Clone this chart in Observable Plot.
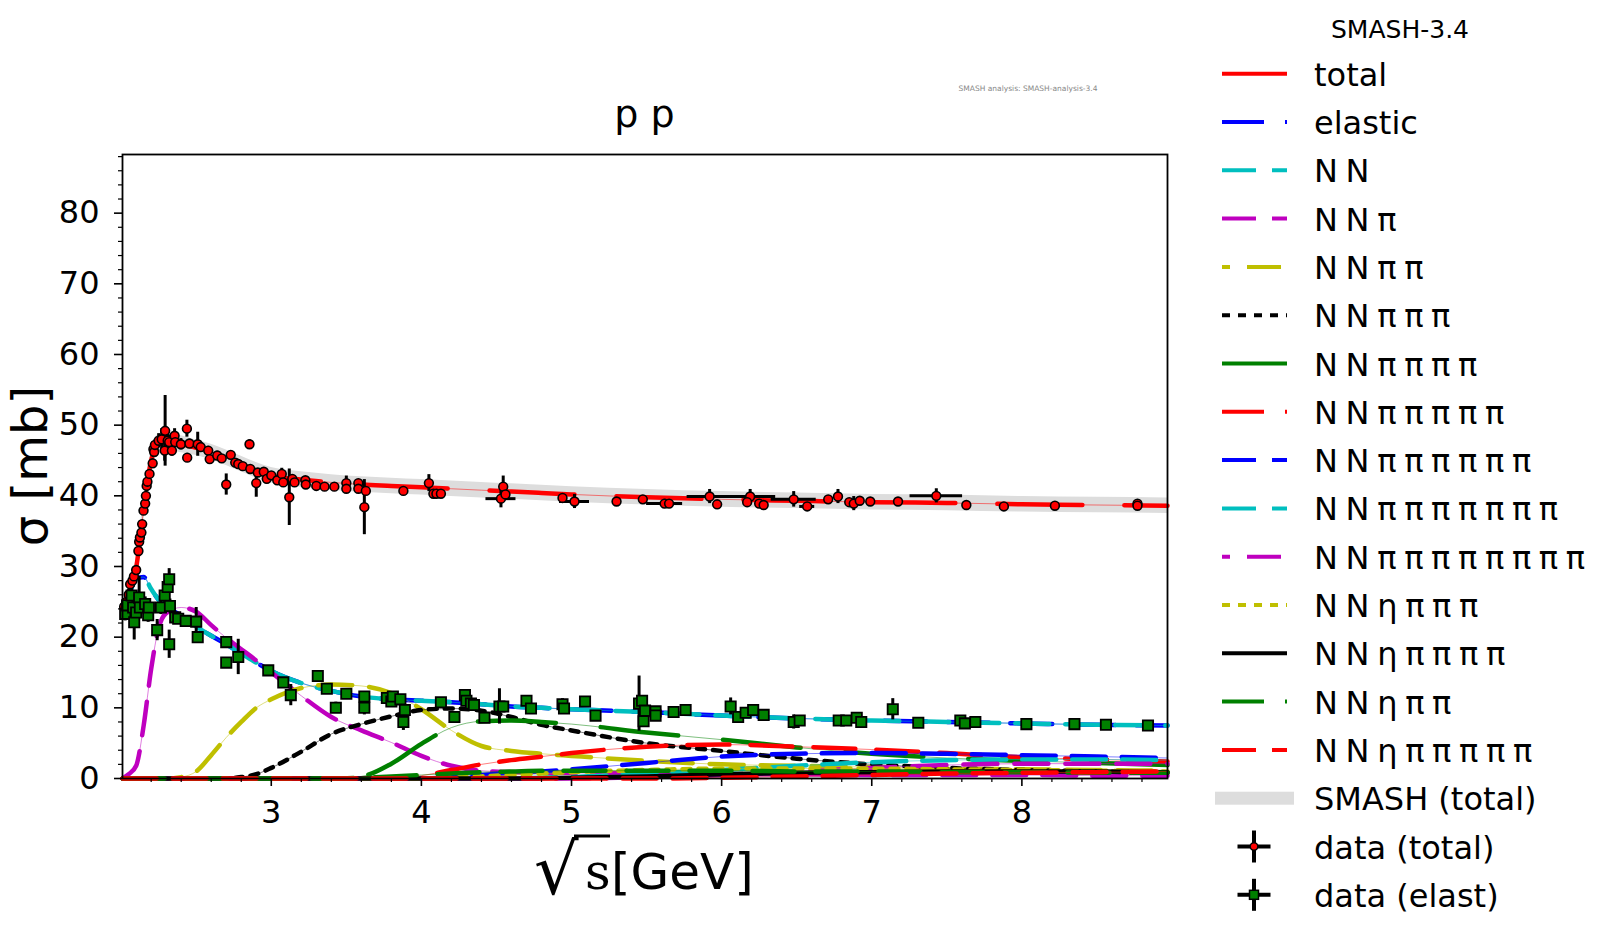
<!DOCTYPE html>
<html><head><meta charset="utf-8">
<script src="https://cdn.jsdelivr.net/npm/d3@7"></script>
<script src="https://cdn.jsdelivr.net/npm/@observablehq/plot@0.6"></script>
<style>
body{margin:0;background:#fff;}
#chart{position:relative;width:1600px;height:933px;}
</style>
</head><body><div id="chart"></div>
<script>
// ---------- model curves (SMASH), common energy grid ----------
const sqrtS = [2.01, 2.05, 2.1, 2.15, 2.2, 2.25, 2.3, 2.4, 2.5, 2.6, 2.7, 2.8, 2.9, 3.0, 3.2, 3.4, 3.6, 3.8, 4.0, 4.2, 4.4, 4.6, 4.8, 5.0, 5.5, 6.0, 6.5, 7.0, 7.5, 8.0, 8.5, 8.97];
const sigTotal   = [24.0, 26.0, 29.8, 38.0, 45.0, 47.4, 47.6, 47.3, 46.8, 46.2, 45.4, 44.5, 43.6, 42.9, 42.3, 41.9, 41.6, 41.4, 41.2, 41.0, 40.8, 40.6, 40.4, 40.2, 39.8, 39.5, 39.3, 39.1, 39.0, 38.8, 38.7, 38.6];
const bandHalf   = [1.0, 1.1, 1.3, 1.5, 1.5, 1.3, 1.2, 1.2, 1.1, 1.1, 1.1, 1.1, 1.1, 1.1, 1.1, 1.1, 1.1, 1.1, 1.1, 1.1, 1.1, 1.1, 1.1, 1.1, 1.1, 1.1, 1.1, 1.1, 1.1, 1.1, 1.1, 1.1];
const sigElastic = [24.0, 26.0, 28.2, 28.5, 26.8, 25.3, 24.4, 23.0, 21.5, 20.2, 19.0, 17.7, 16.4, 15.2, 13.5, 12.4, 11.6, 11.2, 11.0, 10.8, 10.5, 10.2, 10.0, 9.8, 9.4, 8.9, 8.5, 8.2, 8.0, 7.8, 7.6, 7.5];
const sigNN      = [24.0, 26.0, 28.2, 28.5, 26.8, 25.3, 24.4, 23.0, 21.5, 20.2, 19.0, 17.7, 16.4, 15.2, 13.5, 12.4, 11.6, 11.2, 11.0, 10.8, 10.5, 10.2, 10.0, 9.8, 9.4, 8.9, 8.5, 8.2, 8.0, 7.8, 7.6, 7.5];
const sigNNpi    = [0, 0.6, 1.8, 7.5, 15.5, 21.3, 23.4, 24.2, 23.6, 21.7, 19.9, 18.3, 16.7, 15.0, 11.7, 8.7, 6.8, 5.1, 3.2, 1.8, 1.1, 0.9, 0.8, 0.8, 0.7, 0.6, 0.6, 0.5, 0.5, 0.5, 0.4, 0.4];
const sigNN2pi   = [0, 0, 0, 0, 0, 0, 0, 0.2, 1.0, 3.3, 5.8, 8.0, 10.0, 11.2, 12.8, 13.3, 13.1, 12.1, 9.8, 6.8, 4.6, 3.9, 3.5, 3.2, 2.5, 2.0, 1.8, 1.6, 1.4, 1.3, 1.2, 1.1];
const sigNN3pi   = [0, 0, 0, 0, 0, 0, 0, 0, 0, 0, 0, 0.2, 0.6, 1.5, 3.8, 6.3, 7.7, 8.8, 9.7, 9.9, 9.6, 8.7, 7.6, 6.8, 5.0, 3.9, 2.8, 2.0, 1.5, 1.2, 1.0, 0.8];
const sigNN4pi   = [0, 0, 0, 0, 0, 0, 0, 0, 0, 0, 0, 0, 0, 0, 0, 0, 0.3, 2.1, 4.9, 7.2, 8.1, 8.2, 8.0, 7.7, 6.5, 5.5, 4.4, 3.5, 2.9, 2.5, 2.2, 1.9];
const sigNN5pi   = [0, 0, 0, 0, 0, 0, 0, 0, 0, 0, 0, 0, 0, 0, 0, 0, 0, 0, 0.4, 1.2, 2.0, 2.6, 3.1, 3.6, 4.5, 4.8, 4.5, 4.1, 3.6, 3.0, 2.7, 2.4];
const sigNN6pi   = [0, 0, 0, 0, 0, 0, 0, 0, 0, 0, 0, 0, 0, 0, 0, 0, 0, 0, 0, 0.2, 0.5, 0.8, 1.0, 1.3, 2.2, 3.1, 3.5, 3.6, 3.5, 3.3, 3.1, 2.9];
const sigNN7pi   = [0, 0, 0, 0, 0, 0, 0, 0, 0, 0, 0, 0, 0, 0, 0, 0, 0, 0, 0, 0, 0, 0, 0.1, 0.2, 0.7, 1.2, 1.8, 2.3, 2.6, 2.7, 2.7, 2.6];
const sigNN8pi   = [0, 0, 0, 0, 0, 0, 0, 0, 0, 0, 0, 0, 0, 0, 0, 0, 0, 0, 0, 0, 0, 0, 0, 0, 0.2, 0.5, 1.0, 1.5, 1.9, 2.1, 2.1, 2.1];
const sigNNeta3pi= [0, 0, 0, 0, 0, 0, 0, 0, 0, 0, 0, 0, 0, 0, 0, 0, 0, 0, 0, 0.1, 0.3, 0.5, 0.7, 0.9, 1.2, 1.4, 1.4, 1.4, 1.3, 1.2, 1.1, 1.0];
const sigNNeta4pi= [0, 0, 0, 0, 0, 0, 0, 0, 0, 0, 0, 0, 0, 0, 0, 0, 0, 0, 0, 0, 0, 0, 0.05, 0.1, 0.3, 0.6, 0.8, 0.9, 1.0, 1.0, 1.0, 0.9];
const sigNNeta2pi= [0, 0, 0, 0, 0, 0, 0, 0, 0, 0, 0, 0, 0, 0, 0, 0, 0.1, 0.3, 0.5, 0.7, 0.9, 1.0, 1.1, 1.1, 1.1, 1.1, 1.0, 1.0, 0.9, 0.9, 0.8, 0.8];
const sigNNeta5pi= [0, 0, 0, 0, 0, 0, 0, 0, 0, 0, 0, 0, 0, 0, 0, 0, 0, 0, 0, 0, 0, 0, 0, 0, 0, 0.1, 0.3, 0.5, 0.7, 0.8, 0.9, 1.0];

// ---------- experimental data ----------
const totX    = [2.02,2.035,2.05,2.06,2.075,2.085,2.10,2.115,2.12,2.125,2.135,2.14,2.149,2.16,2.165,2.17,2.175,2.189,2.21,2.215,2.22,2.225,2.25,2.27,2.293,2.29,2.31,2.32,2.338,2.356,2.36,2.398,2.438,2.44,2.455,2.51,2.53,2.58,2.59,2.64,2.67,2.70,2.73,2.76,2.78,2.81,2.855,2.86,2.90,2.91,2.95,2.97,3.00,3.04,3.07,3.08,3.12,3.14,3.155,3.227,3.23,3.30,3.355,3.42,3.50,3.50,3.58,3.58,3.62,3.63,3.88,4.05,4.08,4.10,4.13,4.53,4.545,4.56,4.94,5.02,5.30,5.475,5.62,5.65,5.92,5.97,6.19,6.17,6.25,6.28,6.48,6.57,6.71,6.775,6.85,6.88,6.92,6.99,7.175,7.43,7.63,7.88,8.22,8.77,8.77];
const totY    = [24.3,25.0,26.0,27.5,28.0,28.6,29.5,32.2,33.5,34.1,34.8,36.0,37.9,38.9,40.0,41.4,42.0,43.1,44.6,46.6,46.2,47.2,47.8,48.0,49.2,46.4,47.8,47.6,46.4,48.5,47.6,47.3,49.5,45.4,47.4,47.3,46.9,46.4,45.2,45.7,45.3,41.6,45.8,44.7,44.5,44.2,47.3,43.8,41.8,43.3,43.4,42.4,42.9,42.2,43.1,41.9,39.8,42.4,41.9,42.2,41.6,41.4,41.3,41.3,41.8,41.0,41.8,41.0,38.4,40.7,40.7,41.8,40.3,40.3,40.3,39.6,41.3,40.2,39.7,39.2,39.2,39.5,38.9,38.9,39.9,38.8,39.9,39.1,38.9,38.7,39.5,38.5,39.5,39.9,39.1,38.9,39.3,39.2,39.2,40.0,38.7,38.5,38.6,38.9,38.6];
const totErr  = [1.0,1.0,0.8,0.8,0.5,0.5,0.5,0.5,0.5,0.5,0.5,0.5,0.5,0.5,0.5,0.5,0.5,0.5,0.5,0.7,0.7,0.7,1.0,1.5,5.0,1.5,1.0,1.0,0.8,1.0,0.8,0.8,1.2,0.6,0.6,1.7,0.6,0.6,0.6,0.6,0.5,1.5,0.5,0.5,0.5,0.5,0.6,0.5,2.0,0.5,0.5,0.7,0.5,0.5,0.8,0.5,4.0,0.5,0.5,0.5,0.5,0.4,0.4,0.4,1.0,0.4,0.4,0.4,3.9,0.4,0.4,1.2,0.4,0.4,0.4,1.3,1.5,0.5,0.5,1.0,0.4,0.4,0.6,0.4,1.0,0.4,1.0,0.4,0.4,0.4,1.1,0.4,0.4,1.0,0.4,1.0,0.4,0.4,0.4,1.0,0.4,0.4,0.4,0.4,0.4];
const totXErr = [0,0,0,0,0,0,0,0,0,0,0,0,0,0,0,0,0,0,0,0,0,0,0,0,0,0,0,0,0,0,0,0,0,0,0,0,0,0,0,0,0,0,0,0,0,0,0,0,0,0,0,0,0,0,0,0,0,0,0,0,0,0,0,0,0,0,0,0,0,0,0,0,0,0,0,0.1,0,0,0,0.1,0,0,0.12,0,0.15,0,0.17,0,0,0,0.15,0.05,0,0,0,0,0,0,0,0.175,0,0,0,0,0];

const elX   = [2.027,2.04,2.07,2.08,2.087,2.10,2.12,2.125,2.16,2.18,2.185,2.24,2.265,2.29,2.31,2.32,2.325,2.32,2.36,2.38,2.43,2.50,2.51,2.70,2.70,2.78,2.98,3.08,3.13,3.31,3.37,3.43,3.50,3.62,3.62,3.77,3.80,3.81,3.86,3.89,3.88,4.13,4.22,4.29,4.30,4.33,4.35,4.42,4.52,4.545,4.70,4.73,4.94,4.95,5.09,5.16,5.45,5.47,5.48,5.49,5.56,5.56,5.68,5.76,6.06,6.11,6.16,6.21,6.28,6.48,6.52,6.78,6.83,6.90,6.93,7.14,7.31,7.59,7.62,7.69,8.03,8.35,8.56,8.84];
const elY   = [23.3,24.5,25.9,24.2,22.1,23.5,25.6,24.2,24.7,23.1,24.2,21.0,24.2,25.9,27.1,28.2,24.4,19.0,22.8,22.6,22.3,22.2,20.0,19.3,16.4,17.2,15.3,13.6,11.8,14.5,12.7,10.0,12.0,11.6,10.0,11.4,10.9,11.6,11.2,9.7,8.0,10.8,8.7,11.8,11.0,10.6,10.4,8.6,10.2,10.2,11.0,9.9,10.5,9.9,10.9,8.9,10.6,11.0,8.1,9.6,9.5,8.9,9.4,9.7,10.2,8.7,9.3,9.7,9.0,8.0,8.2,8.2,8.2,8.6,8.0,9.8,7.9,8.2,7.8,8.0,7.7,7.7,7.6,7.5];
const elErr = [1.0,1.0,1.5,1.5,2.5,1.0,3.0,1.0,1.0,1.0,1.0,1.5,1.0,1.0,1.0,1.5,1.0,2.0,0.7,0.7,0.7,2.0,0.8,0.6,0.6,2.5,0.5,0.6,1.5,0.6,0.5,0.8,0.5,0.5,1.0,0.5,0.5,0.5,0.5,0.6,1.2,0.5,0.5,0.5,0.5,0.5,0.5,0.5,2.5,0.5,0.5,0.5,0.8,0.5,0.5,0.5,3.9,0.5,0.8,0.5,0.5,0.5,0.5,0.5,1.2,0.5,0.5,0.5,0.5,1.0,0.5,0.4,0.4,0.4,0.4,1.5,0.4,0.4,0.4,0.4,0.3,0.3,0.3,0.3];

// ---------- ticks / labels ----------
const xMajor = [3, 4, 5, 6, 7, 8];
const xMinor = [2.2,2.4,2.6,2.8,3.2,3.4,3.6,3.8,4.2,4.4,4.6,4.8,5.2,5.4,5.6,5.8,6.2,6.4,6.6,6.8,7.2,7.4,7.6,7.8,8.2,8.4,8.6,8.8];
const yMajor = [0, 10, 20, 30, 40, 50, 60, 70, 80];
const yMinor = [2,4,6,8,12,14,16,18,22,24,26,28,32,34,36,38,42,44,46,48,52,54,56,58,62,64,66,68,72,74,76,78,82,84,86,88];

const channelLabels = ["total","elastic","N N","N N π","N N π π","N N π π π","N N π π π π","N N π π π π π","N N π π π π π π","N N π π π π π π π","N N π π π π π π π π","N N η π π π","N N η π π π π","N N η π π","N N η π π π π π"];
const channelValues = [sigTotal, sigElastic, sigNN, sigNNpi, sigNN2pi, sigNN3pi, sigNN4pi, sigNN5pi, sigNN6pi, sigNN7pi, sigNN8pi, sigNNeta3pi, sigNNeta4pi, sigNNeta2pi, sigNNeta5pi];
const channelColors = ["#ff0000","#0000ff","#00bfbf","#bf00bf","#bfbf00","#000000","#008000","#ff0000","#0000ff","#00bfbf","#bf00bf","#bfbf00","#000000","#008000","#ff0000"];
const plotDash   = ["85,42","42,21","34,16","34,16","34,17","8,8","78,45","42,21","34,16","34,16","34,17","8,8",null,"42,21","34,16"];
const legendDash = [null,"42,21","34,16","34,16","34,17","8,8",null,"42,21","34,16","34,16","34,17","8,8",null,"42,21","34,16"];
const dashOffset = [0,0,0,0,26,0,0,0,0,0,26,0,0,0,0];

// ---------- build ----------
const W = 1600, H = 933;
const mL = 122, mR = 433, mT = 154, mB = 155;
const curve = "monotone-x";

const band = sqrtS.map((x, i) => ({x, lo: sigTotal[i] - bandHalf[i], hi: sigTotal[i] + bandHalf[i]}));
const totRows = totX.map((x, i) => ({x, y: totY[i], e: totErr[i], xe: totXErr[i]}));
const elRows = elX.map((x, i) => ({x, y: elY[i], e: elErr[i]}));

const marks = [
  Plot.areaY(band, {x: "x", y1: "lo", y2: "hi", fill: "#dddddd", curve})
];
channelValues.forEach((vals, c) => {
  const rows = sqrtS.map((x, i) => ({x, y: vals[i]}));
  marks.push(Plot.line(rows, {x: "x", y: "y", stroke: channelColors[c], strokeWidth: 1, strokeOpacity: 0.5, curve}));
  const opt = {x: "x", y: "y", stroke: channelColors[c], strokeWidth: 4.5, curve};
  if (plotDash[c]) { opt.strokeDasharray = plotDash[c]; opt.strokeDashoffset = dashOffset[c]; }
  marks.push(Plot.line(rows, opt));
});
marks.push(
  Plot.ruleX(totRows, {x: "x", y1: d => d.y - d.e, y2: d => d.y + d.e, stroke: "black", strokeWidth: 3}),
  Plot.ruleY(totRows.filter(d => d.xe > 0), {y: "y", x1: d => d.x - d.xe, x2: d => d.x + d.xe, stroke: "black", strokeWidth: 3}),
  Plot.ruleX(elRows, {x: "x", y1: d => d.y - d.e, y2: d => d.y + d.e, stroke: "black", strokeWidth: 3}),
  Plot.dot(totRows, {x: "x", y: "y", r: 4.4, fill: "#ff0000", stroke: "black", strokeWidth: 1.6}),
  Plot.dot(elRows, {x: "x", y: "y", r: 5.8, symbol: "square", fill: "#008000", stroke: "black", strokeWidth: 1.8}),
  Plot.axisX(xMajor, {anchor: "bottom", tickSize: 8, tickPadding: 14, strokeWidth: 1.6, fontSize: 32, label: null, tickFormat: d => String(d)}),
  Plot.axisX(xMinor, {anchor: "bottom", tickSize: 4, strokeWidth: 1.2, label: null, tickFormat: () => ""}),
  Plot.axisY(yMajor, {anchor: "left", tickSize: 8, tickPadding: 15, strokeWidth: 1.6, fontSize: 32, label: null, tickFormat: d => String(d)}),
  Plot.axisY(yMinor, {anchor: "left", tickSize: 4, strokeWidth: 1.2, label: null, tickFormat: () => ""}),
  Plot.frame({stroke: "black", strokeWidth: 1.8})
);

const svgNode = Plot.plot({
  width: W, height: H,
  marginLeft: mL, marginRight: mR, marginTop: mT, marginBottom: mB,
  x: {domain: [2.009, 8.97]},
  y: {domain: [0, 88.3]},
  style: {fontFamily: "'DejaVu Sans', sans-serif", fontSize: "32px", color: "black", background: "white", overflow: "visible"},
  marks
});
document.getElementById("chart").appendChild(svgNode);

// ---------- texts & legend ----------
const svg = d3.select(svgNode);
const font = "'DejaVu Sans', sans-serif";
function txt(x, y, s, size, anchor, fam) {
  return svg.append("text").attr("x", x).attr("y", y).attr("text-anchor", anchor || "start")
    .style("text-anchor", anchor || "start")
    .style("font-family", fam || font).style("font-size", size + "px").attr("fill", "black").text(s);
}

txt(644.5, 127, "p p", 38, "middle");
txt(1028, 91, "SMASH analysis: SMASH-analysis-3.4", 7.5, "middle").attr("fill", "#888");

svg.append("text").attr("transform", "translate(47,466) rotate(-90)").attr("text-anchor", "middle")
  .style("text-anchor", "middle").style("font-family", font).style("font-size", "48px").text("σ [mb]");

// x label: √s [GeV]
txt(534, 894, "√", 70);
svg.append("line").attr("x1", 574).attr("x2", 610).attr("y1", 836).attr("y2", 836).attr("stroke", "black").attr("stroke-width", 3);
txt(585, 889, "s", 50, "start", "'DejaVu Serif', serif");
txt(611, 889, "[GeV]", 50);

// legend
txt(1400, 38, "SMASH-3.4", 25, "middle");
const rowY = i => 73.7 + i * 48.3;
channelLabels.forEach((lab, c) => {
  const y = rowY(c);
  const ln = svg.append("line").attr("x1", 1222).attr("x2", 1287).attr("y1", y).attr("y2", y)
    .attr("stroke", channelColors[c]).attr("stroke-width", 4);
  if (legendDash[c]) ln.attr("stroke-dasharray", legendDash[c]).attr("stroke-dashoffset", dashOffset[c]);
  txt(1314, y + 12, lab, 32).style("word-spacing", "-2.5px");
});
{
  const y = rowY(15);
  svg.append("rect").attr("x", 1215).attr("y", y - 6.5).attr("width", 79).attr("height", 13).attr("fill", "#dddddd");
  txt(1314, y + 12, "SMASH (total)", 32);
}
[["data (total)", "circle"], ["data (elast)", "square"]].forEach(([lab, sym], k) => {
  const y = rowY(16 + k), cx = 1254;
  svg.append("line").attr("x1", cx - 16.5).attr("x2", cx + 16.5).attr("y1", y).attr("y2", y).attr("stroke", "black").attr("stroke-width", 4);
  svg.append("line").attr("x1", cx).attr("x2", cx).attr("y1", y - 16).attr("y2", y + 16).attr("stroke", "black").attr("stroke-width", 4);
  if (sym === "circle") svg.append("circle").attr("cx", cx).attr("cy", y).attr("r", 3.8).attr("fill", "#ff0000").attr("stroke", "black").attr("stroke-width", 1.5);
  else svg.append("rect").attr("x", cx - 4.5).attr("y", y - 4.5).attr("width", 9).attr("height", 9).attr("fill", "#008000").attr("stroke", "black").attr("stroke-width", 1.5);
  txt(1314, y + 12, lab, 32);
});
</script>
</body></html>
